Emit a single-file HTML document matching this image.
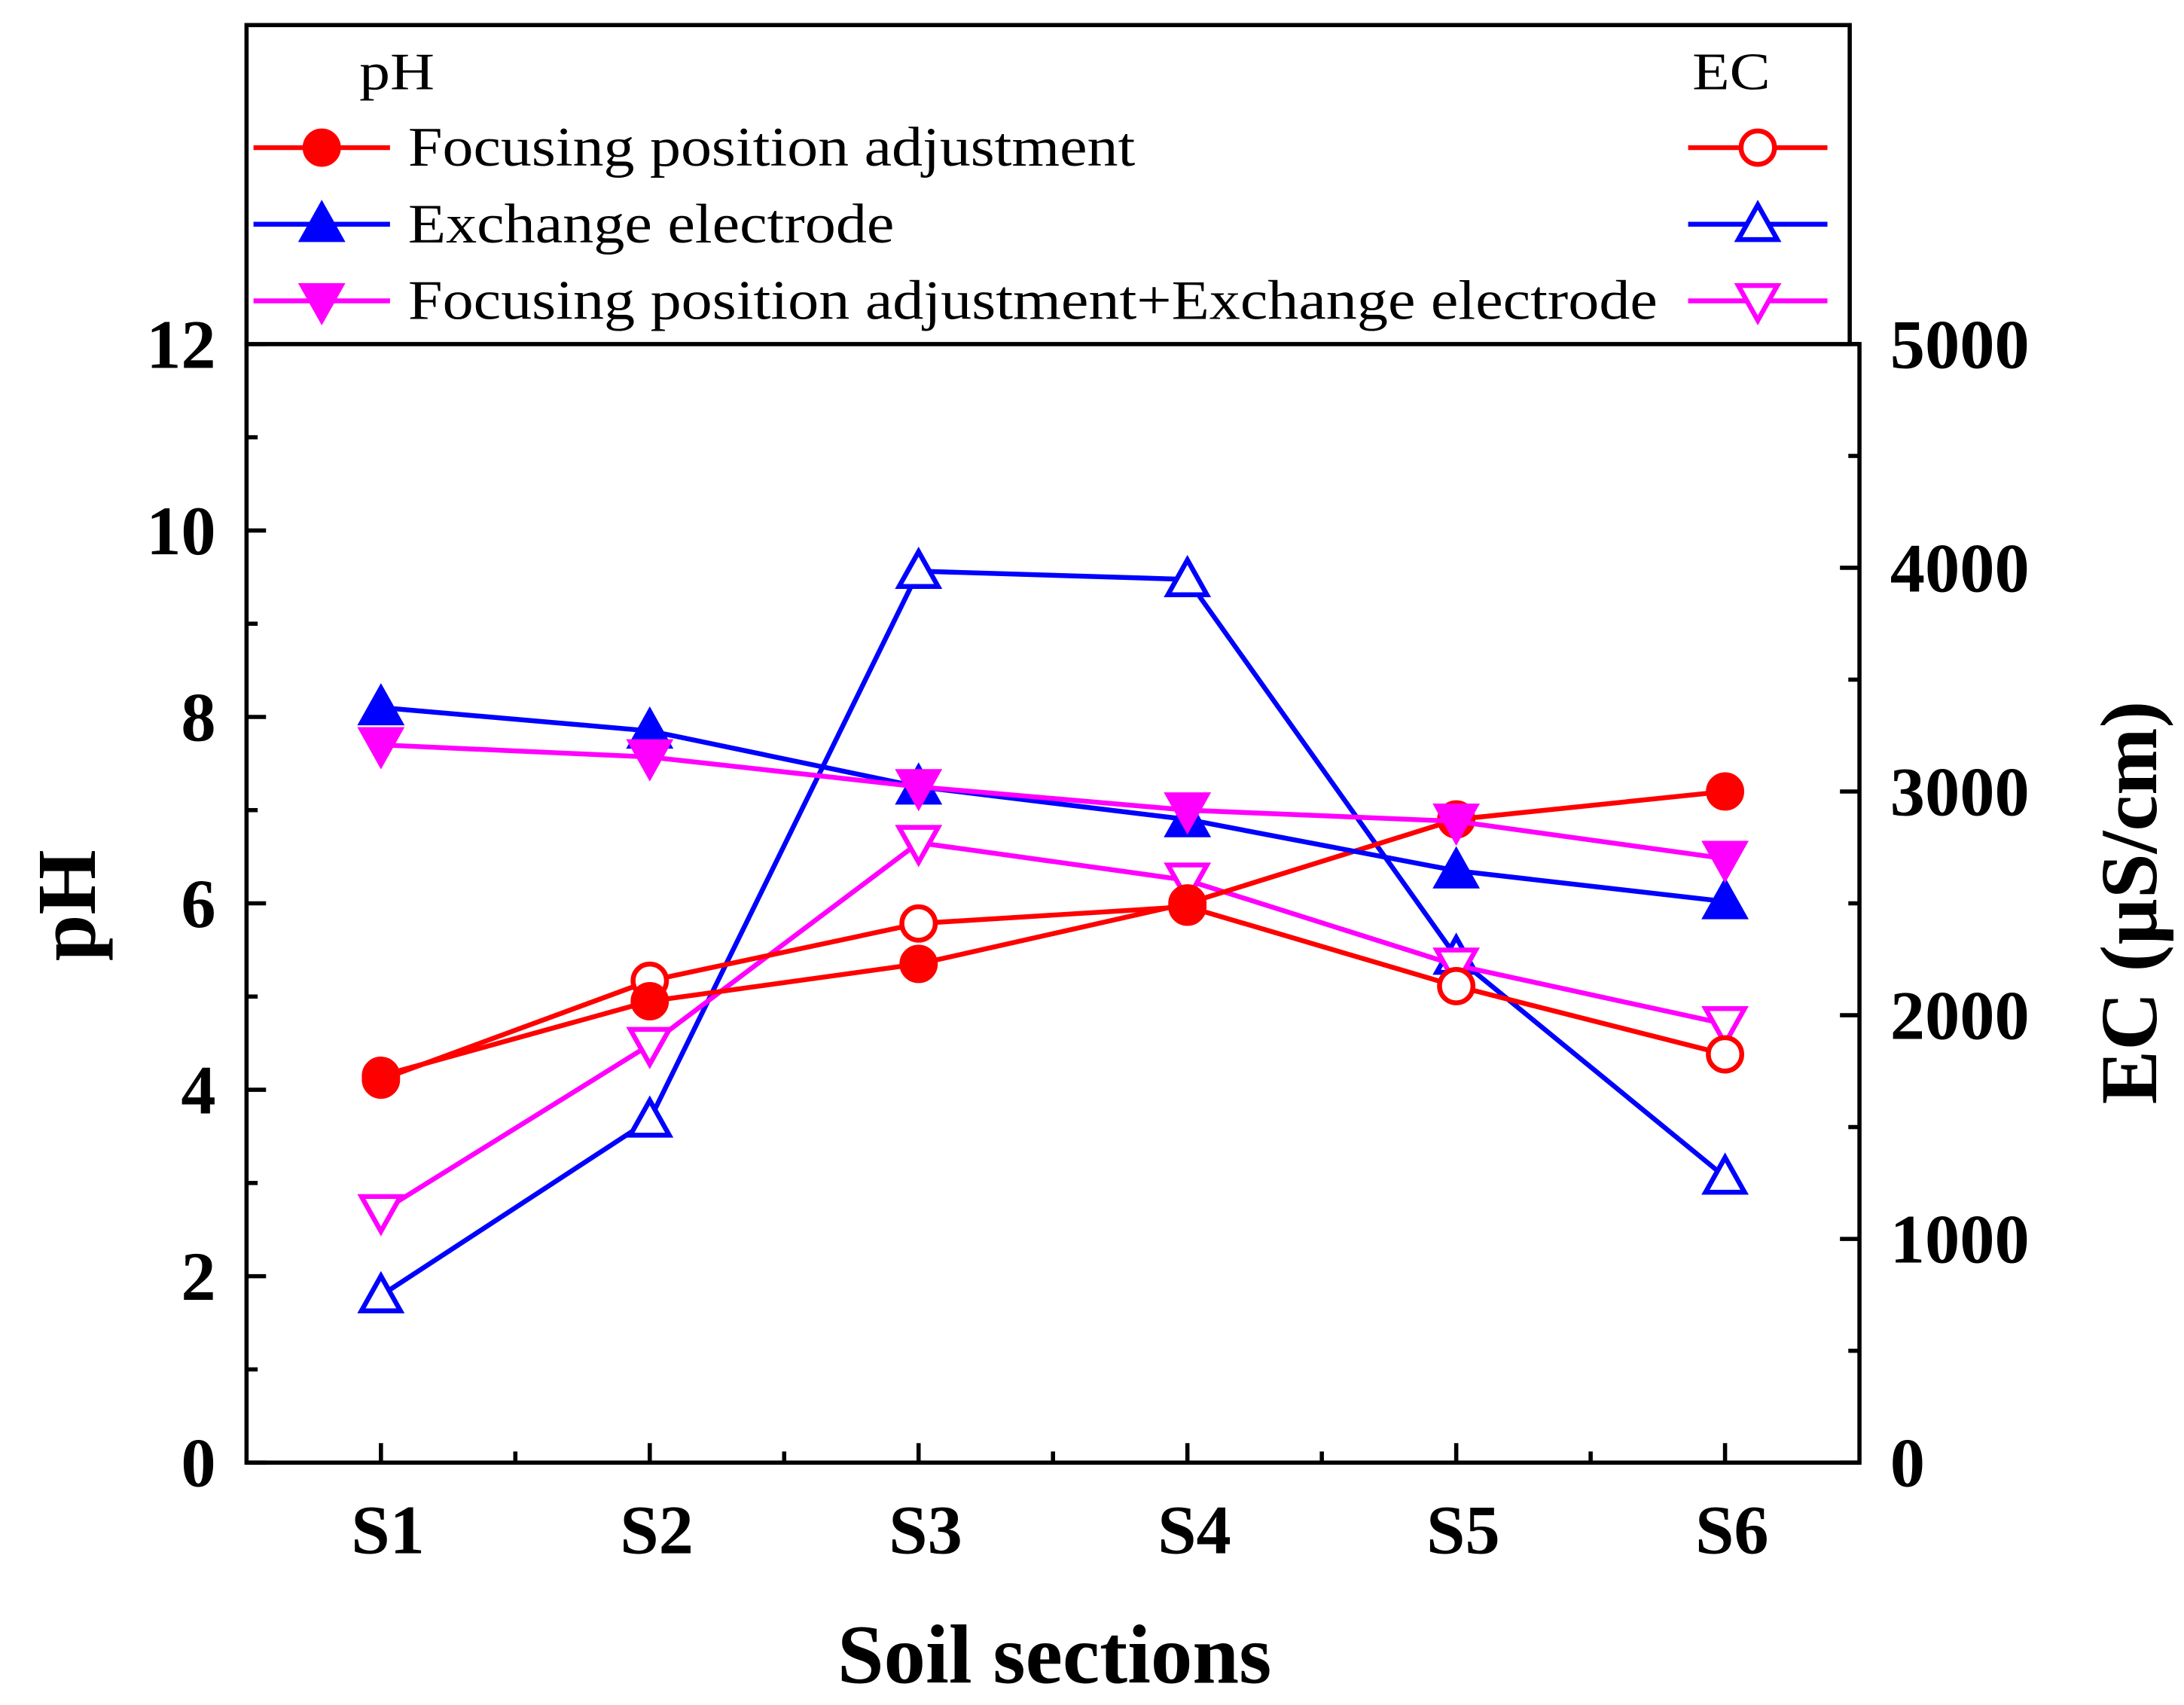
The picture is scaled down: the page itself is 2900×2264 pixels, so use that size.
<!DOCTYPE html>
<html><head><meta charset="utf-8"><style>html,body{margin:0;padding:0;background:#fff}svg{display:block}</style></head>
<body>
<svg id="chart" width="2900" height="2264" viewBox="0 0 1568 1224" preserveAspectRatio="none" xmlns="http://www.w3.org/2000/svg" font-family="'Liberation Serif', serif"></svg>
<script>
const categories = ["S1","S2","S3","S4","S5","S6"];
const phFocus = [4.15, 4.95, 5.35, 6.0, 6.9, 7.2];
const phExchange = [8.1, 7.85, 7.25, 6.9, 6.35, 6.02];
const phBoth = [7.7, 7.57, 7.25, 7.0, 6.88, 6.48];
const ecFocus = [1712, 2154, 2410, 2485, 2130, 1825];
const ecExchange = [747, 1532, 3985, 3948, 2260, 1277];
const ecBoth = [1121, 1868, 2771, 2603, 2223, 1961];
const phTicks = [0,2,4,6,8,10,12];
const ecTicks = [0,1000,2000,3000,4000,5000];

const NS = "http://www.w3.org/2000/svg";
const svg = document.getElementById('chart');
const L=177, R=1335, T=247, B=1050;
const xs = i => L + (i + 0.5) * (R - L) / 6;
const yPh = v => B - v / 12 * (B - T);
const yEc = v => B - v / 5000 * (B - T);
function mk(tag, attrs, parent){ const e=document.createElementNS(NS,tag); for(const k in attrs) e.setAttribute(k,attrs[k]); (parent||svg).appendChild(e); return e; }

function marker(type, x, y, color, filled, g){
  const f = filled ? color : '#fff';
  let e;
  if(type==='circle') e = mk('circle',{cx:x,cy:y,r:12,fill:f,stroke:color,'stroke-width':3.5},g);
  else if(type==='up') e = mk('polygon',{points:`${x},${y-14} ${x-14},${y+11} ${x+14},${y+11}`,fill:f,stroke:color,'stroke-width':3.5},g);
  else e = mk('polygon',{points:`${x},${y+14} ${x-14},${y-11} ${x+14},${y-11}`,fill:f,stroke:color,'stroke-width':3.5},g);
  return e;
}
function series(name, vals, yf, color, type, filled){
  const g = mk('g',{});
  
  
  mk('polyline',{points: vals.map((v,i)=>`${xs(i)},${yf(v)}`).join(' '), fill:'none', stroke:color,'stroke-width':3.5},g);
  vals.forEach((v,i)=>{ const m = marker(type, xs(i), yf(v), color, filled, g);
    
     });
}
series('ec-exchange-line', ecExchange, yEc, '#0000ff', 'up', false);
series('ec-both-line', ecBoth, yEc, '#ff00ff', 'down', false);
series('ec-focus-line', ecFocus, yEc, '#ff0000', 'circle', false);
series('ph-focus-line', phFocus, yPh, '#ff0000', 'circle', true);
series('ph-exchange-line', phExchange, yPh, '#0000ff', 'up', true);
series('ph-both-line', phBoth, yPh, '#ff00ff', 'down', true);

const frame = mk('rect',{x:L,y:T,width:R-L,height:B-T,fill:'none',stroke:'#000','stroke-width':3});


for(let v=0; v<=12; v++){
  const y=yPh(v); const len = v%2===0 ? 14 : 8;
  mk('line',{x1:L,y1:y,x2:L+len,y2:y,stroke:'#000','stroke-width':3});
}
phTicks.forEach(v=>{ const t=mk('text',{x:L-22,y:yPh(v)+17,'text-anchor':'end','font-size':50,'font-weight':'bold'}); t.textContent=v;
  
   });
for(let v=0; v<=5000; v+=500){
  const y=yEc(v); const len = v%1000===0 ? 14 : 8;
  mk('line',{x1:R,y1:y,x2:R-len,y2:y,stroke:'#000','stroke-width':3});
}
ecTicks.forEach(v=>{ const t=mk('text',{x:R+22,y:yEc(v)+17,'font-size':50,'font-weight':'bold'}); t.textContent=v;
  
   });
categories.forEach((c,i)=>{
  mk('line',{x1:xs(i),y1:B,x2:xs(i),y2:B-14,stroke:'#000','stroke-width':3});
  if(i<5) mk('line',{x1:xs(i+0.5),y1:B,x2:xs(i+0.5),y2:B-8,stroke:'#000','stroke-width':3});
  const t=mk('text',{x:xs(i)+5,y:1115,'text-anchor':'middle','font-size':50,'font-weight':'bold'}); t.textContent=c;
  
  
});
let t=mk('text',{x:757,y:1208,'text-anchor':'middle','font-size':60,'font-weight':'bold'}); t.textContent='Soil sections';
 
t=mk('text',{x:0,y:0,'text-anchor':'middle','font-size':60,'font-weight':'bold',transform:'translate(68,650) rotate(-90)'}); t.textContent='pH';
 
t=mk('text',{x:0,y:0,'text-anchor':'middle','font-size':58,'font-weight':'bold',transform:'translate(1548,648) rotate(-90)'}); t.textContent='EC (\u00b5S/cm)';
 

const lg = mk('g',{});


mk('rect',{x:177,y:18,width:1151,height:229,fill:'#fff',stroke:'#000','stroke-width':3},lg);
t=mk('text',{x:258,y:64,'font-size':38,textLength:54,lengthAdjust:'spacingAndGlyphs'},lg); t.textContent='pH';
t=mk('text',{x:1215,y:64,'font-size':38,textLength:56,lengthAdjust:'spacingAndGlyphs'},lg); t.textContent='EC';
const entries=[['Focusing position adjustment','#ff0000','circle',522],['Exchange electrode','#0000ff','up',349],['Focusing position adjustment+Exchange electrode','#ff00ff','down',897]];
entries.forEach((e,i)=>{
  const y=106+i*55;
  const eg=mk('g',{},lg);
  
  
  mk('line',{x1:182,y1:y,x2:280,y2:y,stroke:e[1],'stroke-width':3.5},eg);
  marker(e[2],231,y,e[1],true,eg);
  const tx=mk('text',{x:293,y:y+13,'font-size':40,textLength:e[3],lengthAdjust:'spacingAndGlyphs'},eg); tx.textContent=e[0];
  mk('line',{x1:1212,y1:y,x2:1312,y2:y,stroke:e[1],'stroke-width':3.5},eg);
  marker(e[2],1262,y,e[1],false,eg);
});
</script>
</body></html>
